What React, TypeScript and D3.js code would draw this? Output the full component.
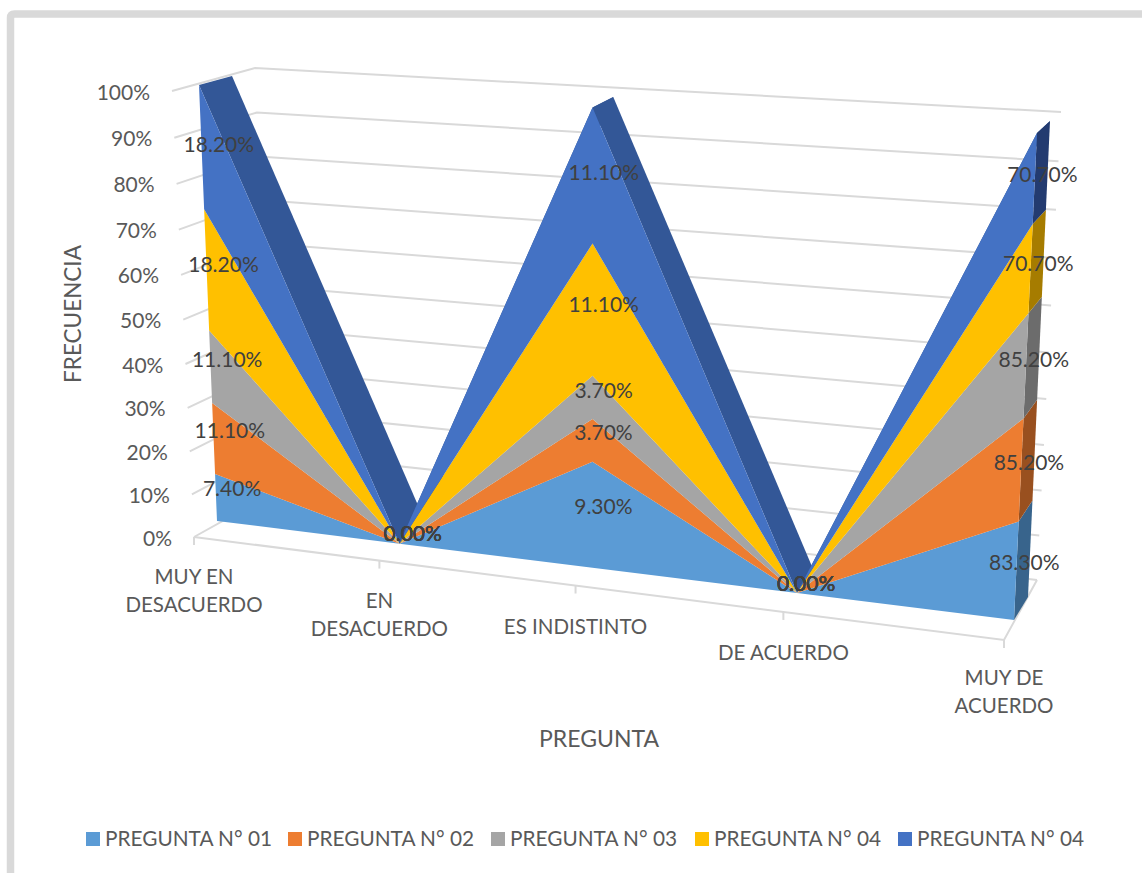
import React from "react";
import * as d3 from "d3";

// Response shares per answer category, stacked to 100% in each column.
const categories = ["MUY EN DESACUERDO", "EN DESACUERDO", "ES INDISTINTO", "DE ACUERDO", "MUY DE ACUERDO"];
const categoryLines = [["MUY EN", "DESACUERDO"], ["EN", "DESACUERDO"], ["ES INDISTINTO"], ["DE ACUERDO"], ["MUY DE", "ACUERDO"]];
const categoryNudge = [0, 1, 1.5, 1.5, -2];
const seriesNames = ["PREGUNTA N° 01", "PREGUNTA N° 02", "PREGUNTA N° 03", "PREGUNTA N° 04", "PREGUNTA N° 04"];
const pregunta01 = [7.4, 0, 9.3, 0, 83.3];
const pregunta02 = [11.1, 0, 3.7, 0, 85.2];
const pregunta03 = [11.1, 0, 3.7, 0, 85.2];
const pregunta04a = [18.2, 0, 11.1, 0, 70.7];
const pregunta04b = [18.2, 0, 11.1, 0, 70.7];
const seriesValues = [pregunta01, pregunta02, pregunta03, pregunta04a, pregunta04b];
const seriesColors = ["#5b9bd5", "#ed7d31", "#a5a5a5", "#ffc000", "#4472c4"];
const capColors = ["#38648c", "#99501f", "#6c6c6c", "#a67c00", "#233b70"];
const topBandColor = "#335797";
const legendX = [86, 288, 491, 695, 898];

type Pt = [number, number];
// Corner order: bottom-left, bottom-right, top-right, top-left.
const wallFront: Pt[] = [[194, 537], [1004, 640], [1027, 142], [172, 91]];
const wallBack: Pt[] = [[273, 493], [1037, 580], [1061, 112], [255, 68]];
const areaFront: Pt[] = [[217, 521], [1014, 620], [1037, 133], [199, 85]];
const areaBack: Pt[] = [[247, 496], [1028, 597], [1050, 121], [232, 76]];

// Maps the unit square onto a quadrilateral, giving true perspective spacing.
function homography(q: Pt[]) {
  const [[x0, y0], [x1, y1], [x2, y2], [x3, y3]] = q;
  const dx1 = x1 - x2, dx2 = x3 - x2, sx = x0 - x1 + x2 - x3;
  const dy1 = y1 - y2, dy2 = y3 - y2, sy = y0 - y1 + y2 - y3;
  const den = dx1 * dy2 - dx2 * dy1;
  const g = (sx * dy2 - dx2 * sy) / den;
  const h = (dx1 * sy - sx * dy1) / den;
  const a = x1 - x0 + g * x1, b = x3 - x0 + h * x3;
  const d = y1 - y0 + g * y1, e = y3 - y0 + h * y3;
  return (u: number, v: number): Pt => {
    const w = g * u + h * v + 1;
    return [(a * u + b * v + x0) / w, (d * u + e * v + y0) / w];
  };
}

const wf = homography(wallFront);
const wb = homography(wallBack);
const af = homography(areaFront);
const ab = homography(areaBack);

const xPos = d3.scalePoint<string>().domain(categories).range([0, 1]);
const yPos = d3.scaleLinear().domain([0, 1]).range([0, 1]);
const pctTicks = yPos.ticks(10);
const pctFormat = d3.format(".0%");

const rows = categories.map((_, c) => seriesValues.map((s) => s[c]));
const stacked = d3
  .stack<number[], number>()
  .keys(d3.range(seriesValues.length))
  .value((r, k) => r[k])
  .offset(d3.stackOffsetExpand)(rows);

const us = categories.map((c) => xPos(c) as number);
const line = d3.line<Pt>().x((p) => p[0]).y((p) => p[1]);
const poly = (pts: Pt[]) => (line(pts) as string) + "Z";

const font = "Lato, 'Open Sans', sans-serif";
const grey = "#595959";
const gridColor = "#d9d9d9";

export default function App() {
  const last = us.length - 1;
  const top = stacked[stacked.length - 1];
  return (
    <svg width={1142} height={873} style={{ position: "absolute", left: 0, top: 0 }} fontFamily={font}>
      <rect width={1142} height={873} fill="#fff" />
      <path d="M10.5 873V18Q10.5 14 14.5 14H1142" fill="none" stroke={gridColor} strokeWidth={7.5} />

      {/* Walls and floor */}
      <g stroke={gridColor} strokeWidth={2} fill="none">
        {pctTicks.map((t) => (
          <path key={t} d={line([wf(0, yPos(t)), wb(0, yPos(t)), wb(1, yPos(t))]) as string} />
        ))}
        <path d={line([wf(0, 0), wf(1, 0), wb(1, 0)]) as string} />
        {us.map((u, i) => {
          const p = wf(u, 0);
          return <path key={i} d={`M${p[0]} ${p[1]}v8`} />;
        })}
      </g>

      {/* Upper surface of the stack */}
      {us.slice(0, last).map((u, i) => (
        <path
          key={i}
          fill={topBandColor}
          d={poly([af(u, top[i][1]), af(us[i + 1], top[i + 1][1]), ab(us[i + 1], top[i + 1][1]), ab(u, top[i][1])])}
        />
      ))}

      {/* Right-hand end cap */}
      {stacked.map((s, k) => (
        <path
          key={k}
          fill={capColors[k]}
          d={poly([af(1, s[last][0]), af(1, s[last][1]), ab(1, s[last][1]), ab(1, s[last][0])])}
        />
      ))}

      {/* Front faces of the stacked areas */}
      {stacked.map((s, k) => (
        <path
          key={k}
          fill={seriesColors[k]}
          d={poly([...us.map((u, i) => af(u, s[i][1])), ...us.map((u, i) => af(u, s[i][0])).reverse()])}
        />
      ))}

      {/* Value labels sit half way through the depth of each band */}
      <g fontSize={21} fill="#404040" textAnchor="middle" dominantBaseline="central">
        {stacked.map((s, k) =>
          us.map((u, i) => {
            const v = (s[i][0] + s[i][1]) / 2;
            const f = af(u, v), b = ab(u, v);
            return (
              <text key={`${k}-${i}`} x={(f[0] + b[0]) / 2 + 1} y={(f[1] + b[1]) / 2 + 1.5}>
                {seriesValues[k][i].toFixed(2) + "%"}
              </text>
            );
          })
        )}
      </g>

      {/* Percentage axis */}
      <g fontSize={21} fill={grey} textAnchor="end" dominantBaseline="central">
        {pctTicks.map((t) => {
          const p = wf(0, yPos(t));
          return (
            <text key={t} x={p[0] - 22} y={p[1]}>
              {pctFormat(t)}
            </text>
          );
        })}
      </g>

      {/* Category axis */}
      <g fontSize={20.5} fill={grey} textAnchor="middle">
        {us.map((u, i) => {
          const p = wf(u, 0);
          return categoryLines[i].map((l, j) => (
            <text key={j} x={p[0]} y={p[1] + 46.5 + categoryNudge[i] + j * 28}>
              {l}
            </text>
          ));
        })}
      </g>

      <text x={599} y={747} fontSize={23} fill={grey} textAnchor="middle">PREGUNTA</text>
      <text transform="translate(81 314) rotate(-90)" fontSize={22.5} fill={grey} textAnchor="middle">FRECUENCIA</text>

      {/* Legend */}
      {seriesNames.map((n, k) => (
        <g key={k}>
          <rect x={legendX[k]} y={832} width={14} height={14} fill={seriesColors[k]} />
          <text x={legendX[k] + 19} y={845.5} fontSize={20.8} fill={grey}>{n}</text>
        </g>
      ))}
    </svg>
  );
}
